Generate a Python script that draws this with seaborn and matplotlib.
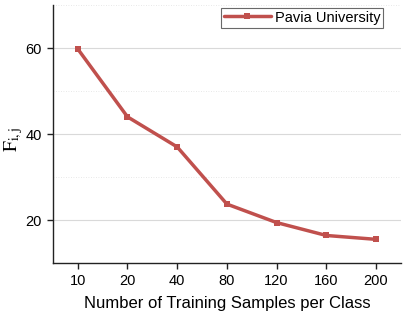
import matplotlib
matplotlib.use("Agg")
import matplotlib.pyplot as plt
import seaborn as sns
import pandas as pd
from matplotlib.ticker import MultipleLocator

samples = ["10", "20", "40", "80", "120", "160", "200"]
values = [59.8, 44.0, 37.0, 23.7, 19.4, 16.4, 15.5]
series = "Pavia University"

df = pd.DataFrame({"samples": samples, "F": values, "series": series})

sns.set_theme(style="white")
plt.rcParams['font.family'] = ['Liberation Sans', 'DejaVu Sans']
plt.rcParams['mathtext.fontset'] = 'stix'
plt.rcParams['text.color'] = 'black'
plt.rcParams['axes.labelcolor'] = 'black'
plt.rcParams['xtick.color'] = 'black'
plt.rcParams['ytick.color'] = 'black'

fig = plt.figure(figsize=(4.07, 3.18), dpi=100)
ax = fig.add_axes([0.130, 0.173, 0.855, 0.811])

color = "#c0504d"
sns.lineplot(data=df, x="samples", y="F", hue="series", palette=[color],
             marker="s", markersize=5, markeredgewidth=0, linewidth=2.5,
             sort=False, ax=ax)

ax.set_xlim(-0.5, 6.5)
ax.set_ylim(10, 70)
ax.yaxis.set_major_locator(MultipleLocator(20))
ax.yaxis.set_minor_locator(MultipleLocator(10))
ax.grid(which="major", axis="y", color="#d9d9d9", linewidth=0.8, linestyle="-")
ax.grid(which="minor", axis="y", color="#e0e0e0", linewidth=0.6, linestyle=(0, (1, 2)))
ax.grid(which="major", axis="x", visible=False)

for s in ["top", "right"]:
    ax.spines[s].set_visible(False)
for s in ["left", "bottom"]:
    ax.spines[s].set_color("#222222")
    ax.spines[s].set_linewidth(1.0)

ax.tick_params(axis="both", which="major", direction="out", length=4, width=1,
               color="#222222", labelsize=10.5, pad=4, left=True, bottom=True)
ax.tick_params(axis="y", which="minor", left=False)

ax.set_xlabel("Number of Training Samples per Class", fontsize=12, labelpad=6)
ax.set_ylabel(r"$\mathrm{F}_{\mathrm{i,j}}$", fontsize=14)
ax.yaxis.set_label_coords(-0.08, 0.48)

leg = ax.legend(loc="upper right", bbox_to_anchor=(0.95, 0.99), fontsize=10.5,
                frameon=True, fancybox=False,
                borderpad=0.2, handlelength=3.2, handletextpad=0.3,
                borderaxespad=0.0)
leg.get_frame().set_edgecolor("#444444")
leg.get_frame().set_linewidth(0.8)

fig.savefig("out.png", dpi=100)
